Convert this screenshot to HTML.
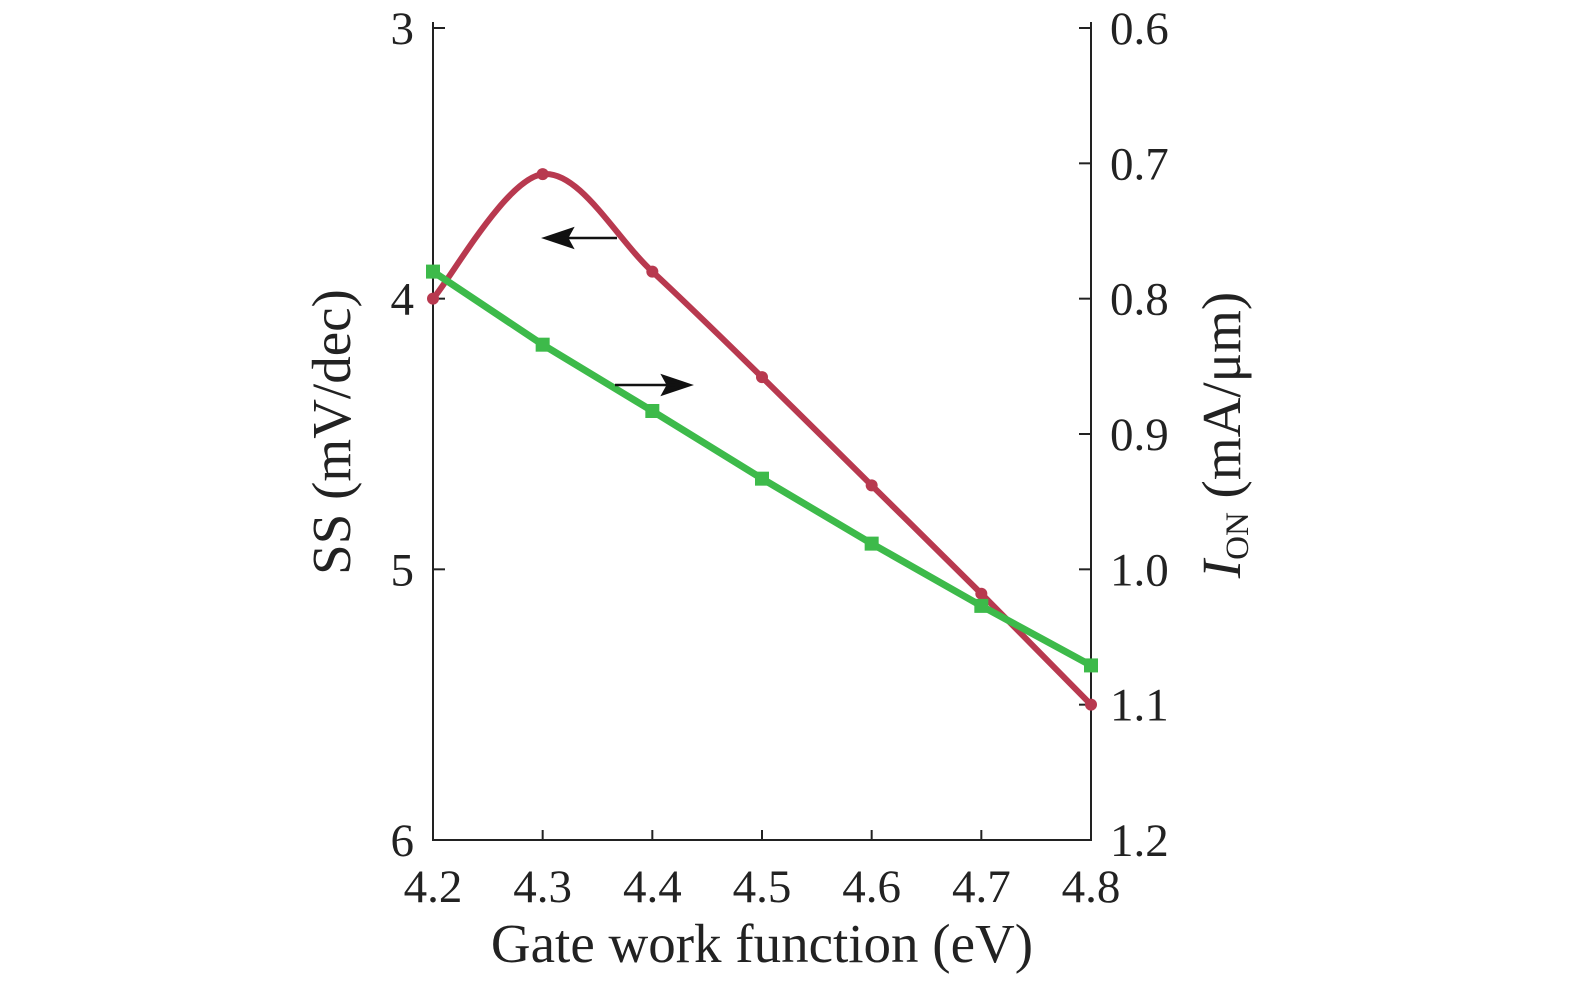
<!DOCTYPE html>
<html><head><meta charset="utf-8"><style>
body{margin:0;background:#fff}
svg text{font-family:"Liberation Serif",serif;fill:#222}
</style></head><body>
<svg id="c" width="1575" height="983"></svg>
<script>
const xCats=[4.2,4.3,4.4,4.5,4.6,4.7,4.8];
const ssVals=[4.0,3.54,3.90,4.29,4.69,5.09,5.50];
const ionVals=[0.78,0.834,0.883,0.933,0.981,1.027,1.071];
const xTicks=["4.2","4.3","4.4","4.5","4.6","4.7","4.8"];
const leftTicks=[3,4,5,6];
const rightTicks=["0.6","0.7","0.8","0.9","1.0","1.1","1.2"];
const X0=433,X1=1091,Y0=28,Y1=840;
const sx=v=>X0+(v-4.2)/0.6*(X1-X0);
const syL=v=>Y0+(v-3)/3*(Y1-Y0);
const syR=v=>Y0+(v-0.6)/0.6*(Y1-Y0);
const svg=document.getElementById('c');const NS='http://www.w3.org/2000/svg';
function mk(t,a,txt){const e=document.createElementNS(NS,t);for(const k in a)e.setAttribute(k,a[k]);if(txt!=null)e.textContent=txt;svg.appendChild(e);return e;}
let e;
e=mk('path',{d:`M${X0},${Y0-6}V${Y1}H${X1}V${Y0-6}`,fill:'none',stroke:'#222','stroke-width':2});


leftTicks.forEach(v=>{const y=syL(v);
 e=mk('line',{x1:X0,x2:X0+12,y1:y,y2:y,stroke:'#222','stroke-width':2});
 
 
 e=mk('text',{x:414,y:y+16,'font-size':47,'text-anchor':'end'},v);
 
 });
rightTicks.forEach(v=>{const y=syR(+v);
 e=mk('line',{x1:X1-12,x2:X1,y1:y,y2:y,stroke:'#222','stroke-width':2});
 
 
 e=mk('text',{x:1110,y:y+16,'font-size':47},v);
 
 });
xTicks.forEach(v=>{const x=sx(+v);
 e=mk('line',{x1:x,x2:x,y1:Y1,y2:Y1-10,stroke:'#222','stroke-width':2});
 
 
 e=mk('text',{x:x,y:902,'font-size':47,'text-anchor':'middle'},v);
 
 });
e=mk('text',{x:762,y:962,'font-size':55,'text-anchor':'middle'},'Gate work function (eV)');


e=mk('text',{x:0,y:0,'font-size':55,'text-anchor':'middle',transform:'translate(350,432) rotate(-90)'},'SS (mV/dec)');


e=mk('text',{x:0,y:0,'font-size':55,'text-anchor':'middle',transform:'translate(1240,435) rotate(-90)'});
e.innerHTML='<tspan font-style="italic">I</tspan><tspan font-size="33" dy="8">ON</tspan><tspan dy="-8"> (mA/μm)</tspan>';


function spline(p){let d=`M${p[0][0]},${p[0][1]}`;for(let i=0;i<p.length-1;i++){const a=p[i-1]||p[i],b=p[i],c=p[i+1],n=p[i+2]||c;
 d+=`C${b[0]+(c[0]-a[0])/6},${b[1]+(c[1]-a[1])/6} ${c[0]-(n[0]-b[0])/6},${c[1]-(n[1]-b[1])/6} ${c[0]},${c[1]}`;}return d;}
const rp=xCats.map((x,i)=>[sx(x),syL(ssVals[i])]);
const gp=xCats.map((x,i)=>[sx(x),syR(ionVals[i])]);
e=mk('path',{d:spline(rp),fill:'none',stroke:'#b8394f','stroke-width':6});


rp.forEach(p=>{e=mk('circle',{cx:p[0],cy:p[1],r:6,fill:'#b8394f'});
 
 });
e=mk('polyline',{points:gp.map(p=>p.join(',')).join(' '),fill:'none',stroke:'#3dba4a','stroke-width':7});


gp.forEach(p=>{e=mk('rect',{x:p[0]-7,y:p[1]-7,width:14,height:14,fill:'#3dba4a'});
 
 });
e=mk('path',{d:'M617,238H560M545,238L572,229L567,238L572,247Z',stroke:'#111','stroke-width':2.5,fill:'#111'});


e=mk('path',{d:'M615,385H675M690,385L663,376L668,385L663,394Z',stroke:'#111','stroke-width':2.5,fill:'#111'});


</script>
</body></html>
